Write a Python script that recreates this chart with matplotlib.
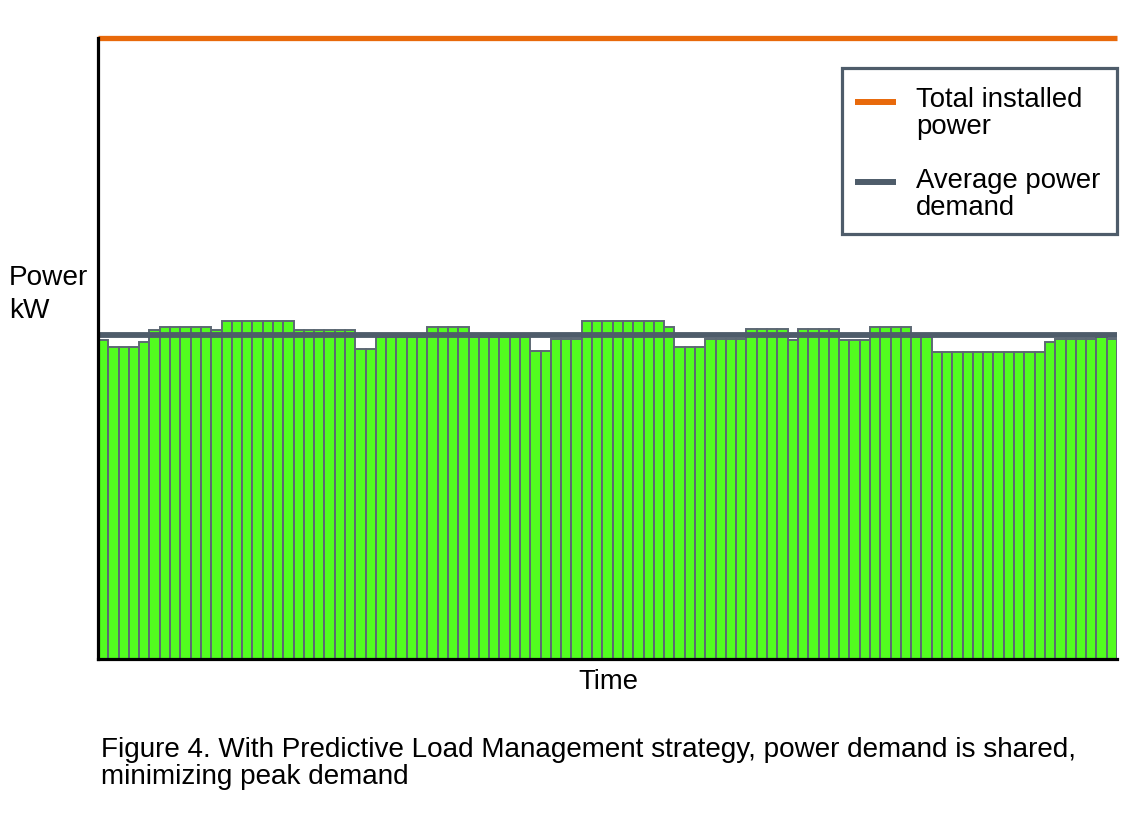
import matplotlib
matplotlib.use("Agg")
import matplotlib.pyplot as plt
from matplotlib.patches import Rectangle
from matplotlib.lines import Line2D
import numpy as np

plt.rcParams['font.family'] = ['Liberation Sans', 'DejaVu Sans']

# power demand per time slot (kW, arbitrary scale, installed power = 100)
demand = [51.4, 50.2, 50.2, 50.2, 51.0, 52.9, 53.5, 53.5, 53.5, 53.5,
          53.5, 52.9, 54.5, 54.5, 54.5, 54.5, 54.5, 54.5, 54.5, 52.9,
          52.9, 52.9, 52.9, 52.9, 52.9, 49.9, 49.9, 51.9, 51.9, 51.9,
          51.9, 51.9, 53.5, 53.5, 53.5, 53.5, 51.9, 51.9, 51.9, 51.9,
          51.9, 51.9, 49.6, 49.6, 51.5, 51.5, 51.5, 54.4, 54.4, 54.4,
          54.4, 54.4, 54.4, 54.4, 54.4, 53.5, 50.3, 50.3, 50.3, 51.6,
          51.6, 51.6, 51.6, 53.1, 53.1, 53.1, 53.1, 51.4, 53.1, 53.1,
          53.1, 53.1, 51.4, 51.4, 51.4, 53.5, 53.5, 53.5, 53.5, 51.9,
          51.9, 49.4, 49.4, 49.4, 49.4, 49.4, 49.4, 49.4, 49.4, 49.4,
          49.4, 49.4, 51.0, 51.5, 51.5, 51.5, 51.5, 51.9, 51.5]
installed_power = 100.0
average_demand = 52.25

legend_labels = [["Total installed", "power"], ["Average power", "demand"]]
caption = ["Figure 4. With Predictive Load Management strategy, power demand is shared,",
           "minimizing peak demand"]

W, H = 1146, 827
ORANGE = "#e8690b"
GREY = "#4e5c6a"
GREEN = "#52fc1f"
FS = 19.8

fig = plt.figure(figsize=(W / 100, H / 100), dpi=100)


def fx(px):
    return px / W


def fy(py):
    return 1 - py / H


ax = fig.add_axes([fx(98), fy(659), fx(1117) - fx(98), fy(38) - fy(659)])

x = np.arange(len(demand))
ax.bar(x, demand, width=1.0, color=GREEN, edgecolor="#5d6874", linewidth=1.4, zorder=2)
ax.axhline(average_demand, color=GREY, linewidth=4.2, zorder=3, solid_capstyle="butt")
ax.axhline(installed_power, color=ORANGE, linewidth=3.8, zorder=3, clip_on=False,
           solid_capstyle="butt")

ax.set_xlim(-0.5, len(demand) - 0.5)
ax.set_ylim(0, installed_power)
ax.set_xticks([])
ax.set_yticks([])
for s in ["top", "right"]:
    ax.spines[s].set_visible(False)
for s in ["left", "bottom"]:
    ax.spines[s].set_linewidth(2.3)
    ax.spines[s].set_color("black")
    ax.spines[s].set_zorder(4)

# axis labels
fig.text(fx(9), fy(285), "Power", fontsize=20.2, va="baseline", ha="left")
fig.text(fx(9), fy(318), "kW", fontsize=20.2, va="baseline", ha="left")
fig.text(fx(608), fy(689), "Time", fontsize=FS, va="baseline", ha="center")

# legend drawn by hand so the handle sits at the first text line
fig.add_artist(Rectangle((fx(842), fy(234)), fx(1117) - fx(842), fy(68) - fy(234),
                         transform=fig.transFigure, facecolor="white",
                         edgecolor=GREY, linewidth=2.3, zorder=5))
for (lines, col, hy, by) in [(legend_labels[0], ORANGE, 102, 107),
                              (legend_labels[1], GREY, 181.5, 188)]:
    fig.add_artist(Line2D([fx(855), fx(896)], [fy(hy), fy(hy)], color=col,
                          linewidth=4.3, transform=fig.transFigure, zorder=6,
                          solid_capstyle="butt"))
    for i, t in enumerate(lines):
        fig.text(fx(916), fy(by + i * 26.7), t, fontsize=FS, va="baseline",
                 ha="left", zorder=6)

# caption
for i, t in enumerate(caption):
    fig.text(fx(101), fy(757 + i * 26.7), t, fontsize=20.1, va="baseline", ha="left")

fig.savefig("out.png", dpi=100)
